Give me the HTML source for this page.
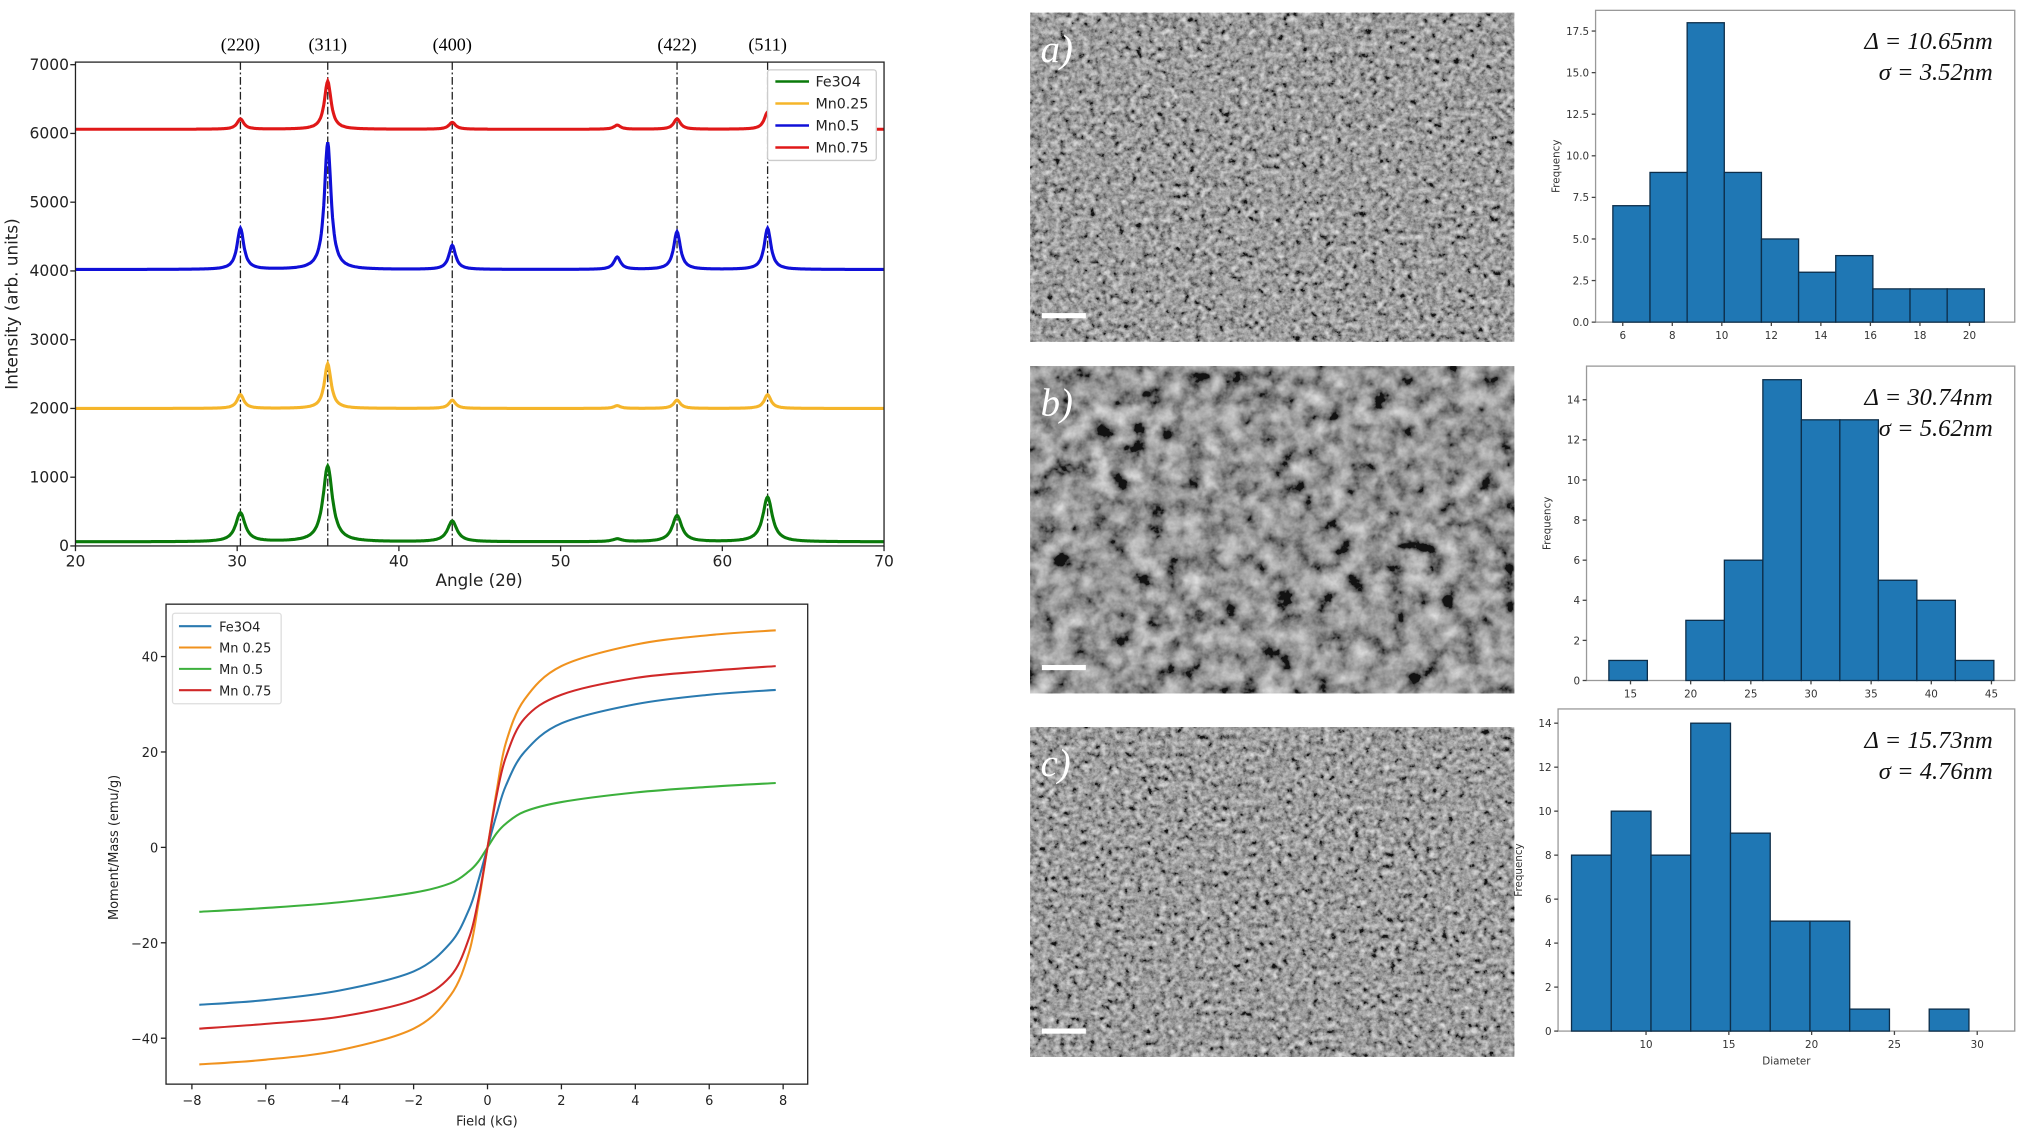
<!DOCTYPE html>
<html><head><meta charset="utf-8"><style>
html,body{margin:0;padding:0;background:#fff;width:2032px;height:1132px;overflow:hidden}
svg text{font-family:"DejaVu Sans","Liberation Sans",sans-serif}
.ser{font-family:"Liberation Serif",serif}
</style></head><body>
<svg id="root" width="2032" height="1132" viewBox="0 0 1568 875" xmlns="http://www.w3.org/2000/svg">
<defs>
<filter id="sem" x="0" y="0" width="100%" height="100%">
<feTurbulence type="fractalNoise" baseFrequency="0.22" numOctaves="4" seed="4"/>
<feColorMatrix type="matrix" values="0.33 0.33 0.33 0 0  0.33 0.33 0.33 0 0  0.33 0.33 0.33 0 0  0 0 0 0 1"/>
<feComponentTransfer><feFuncR type="linear" slope="2.3" intercept="-0.72"/><feFuncG type="linear" slope="2.3" intercept="-0.72"/><feFuncB type="linear" slope="2.3" intercept="-0.72"/></feComponentTransfer>
</filter>
<filter id="sem2" x="0" y="0" width="100%" height="100%">
<feTurbulence type="fractalNoise" baseFrequency="0.07" numOctaves="4" seed="9"/>
<feColorMatrix type="matrix" values="0.33 0.33 0.33 0 0  0.33 0.33 0.33 0 0  0.33 0.33 0.33 0 0  0 0 0 0 1"/>
<feComponentTransfer><feFuncR type="linear" slope="2.4" intercept="-0.82"/><feFuncG type="linear" slope="2.4" intercept="-0.82"/><feFuncB type="linear" slope="2.4" intercept="-0.82"/></feComponentTransfer>
</filter>
</defs>
</svg>
<script>
// ---------- XRD data ----------
const xrdSeries = ['Fe3O4','Mn0.25','Mn0.5','Mn0.75'];
const xrdColors = ['#0a7a0a','#f5b52a','#1010d8','#e01818'];
const xrdBaselines = [60, 2000, 4020, 6060];
const peakPositions = [30.2, 35.6, 43.3, 53.5, 57.2, 62.8];
const peakLabels = ['(220)','(311)','(400)','','(422)','(511)'];
const peaksFe3O4 = [420, 1100, 300, 40, 380, 650];
const peaksMn025 = [200, 650, 120, 40, 120, 200];
const peaksMn05 = [600, 1850, 350, 180, 550, 600];
const peaksMn075 = [150, 700, 100, 60, 150, 250];
const xrdXTicks = [20,30,40,50,60,70];
const xrdYTicks = [0,1000,2000,3000,4000,5000,6000,7000];
// ---------- Hysteresis data ----------
const hystSeries = ['Fe3O4','Mn 0.25','Mn 0.5','Mn 0.75'];
const hystColors = ['#2a7ab0','#f0921e','#3cb03c','#d02828'];
const hystField = [0, 0.25, 0.5, 1, 2, 4, 6, 7.8];
const hystFe3O4 = [0, 7, 13, 20, 26, 30, 32, 33];
const hystMn025 = [0, 12, 22, 31, 38, 42.5, 44.5, 45.5];
const hystMn05 = [0, 3, 5, 7.5, 9.5, 11.5, 12.7, 13.5];
const hystMn075 = [0, 11, 19, 27, 32, 35.5, 37, 38];
const hystXTicks = [-8,-6,-4,-2,0,2,4,6,8];
const hystYTicks = [-40,-20,0,20,40];
// ---------- Histograms ----------
const histAEdges = [5.6, 7.1, 8.6, 10.1, 11.6, 13.1, 14.6, 16.1, 17.6, 19.1, 20.6];
const histACounts = [7, 9, 18, 9, 5, 3, 4, 2, 2, 2];
const histAXTicks = [6,8,10,12,14,16,18,20];
const histAYTicks = [0,2.5,5,7.5,10,12.5,15,17.5];
const histBEdges = [13.2, 16.4, 19.6, 22.8, 26.0, 29.2, 32.4, 35.6, 38.8, 42.0, 45.2];
const histBCounts = [1, 0, 3, 6, 15, 13, 13, 5, 4, 1];
const histBXTicks = [15,20,25,30,35,40,45];
const histBYTicks = [0,2,4,6,8,10,12,14];
const histCEdges = [5.5, 7.9, 10.3, 12.7, 15.1, 17.5, 19.9, 22.3, 24.7, 27.1, 29.5, 31.9];
const histCCounts = [8, 10, 8, 14, 9, 5, 5, 1, 0, 1];
const histCXTicks = [10,15,20,25,30];
const histCYTicks = [0,2,4,6,8,10,12,14];

const NS='http://www.w3.org/2000/svg';
const root=document.getElementById('root');
function el(tag,attrs,parent,text){const e=document.createElementNS(NS,tag);for(const k in attrs)e.setAttribute(k,attrs[k]);if(text!==undefined)e.textContent=text;(parent||root).appendChild(e);return e;}

// ===== XRD =====
const xg=el('g',{});


const XL=57,XR=682,XT=48,XB=422;
const xX=v=>XL+(v-20)*(XR-XL)/50;
const xY=v=>XB-v*(422-50)/7000;
const xrdPeaks=[peaksFe3O4,peaksMn025,peaksMn05,peaksMn075];
[0,1,2,4,5].forEach(i=>{
  const l=el('line',{x1:xX(peakPositions[i]),x2:xX(peakPositions[i]),y1:XT,y2:XB,stroke:'#222','stroke-width':1,'stroke-dasharray':'6,2,1.5,2'},xg);
  
  
  const t=el('text',{x:xX(peakPositions[i]),y:39,'text-anchor':'middle','font-size':14,class:'ser'},xg,peakLabels[i]);
  
  
});
xrdSeries.forEach((s,si)=>{
  let d='';
  for(let a=20;a<=70.001;a+=0.05){
    let v=xrdBaselines[si];
    xrdPeaks[si].forEach((h,pi)=>{const w=si===0?0.35:0.25;const dx=(a-peakPositions[pi])/w;v+=h/(1+dx*dx);});
    d+=(d?'L':'M')+xX(a).toFixed(1)+','+xY(v).toFixed(1);
  }
  const p=el('path',{d:d,fill:'none',stroke:xrdColors[si],'stroke-width':2.4},xg);
  
  
});
el('rect',{x:XL,y:XT,width:XR-XL,height:XB-XT,fill:'none',stroke:'#222','stroke-width':1},xg);
xrdXTicks.forEach(t=>{el('line',{x1:xX(t),x2:xX(t),y1:XB,y2:XB+4,stroke:'#222'},xg);
  const tt=el('text',{x:xX(t),y:XB+16,'text-anchor':'middle','font-size':12,fill:'#222'},xg,t);
  });
xrdYTicks.forEach(t=>{el('line',{x1:XL-4,x2:XL,y1:xY(t),y2:xY(t),stroke:'#222'},xg);
  const tt=el('text',{x:XL-5,y:xY(t)+4,'text-anchor':'end','font-size':12,fill:'#222'},xg,t);
  });
let t1=el('text',{x:369,y:453,'text-anchor':'middle','font-size':13,fill:'#222'},xg,'Angle (2θ)');

t1=el('text',{x:0,y:0,transform:'translate(12,235) rotate(-90)','text-anchor':'middle','font-size':13,fill:'#222'},xg,'Intensity (arb. units)');

const xlg=el('g',{},xg);

el('rect',{x:592,y:54,width:84,height:70,fill:'#fff',stroke:'#ccc',rx:2},xlg);
xrdSeries.forEach((s,i)=>{el('line',{x1:598,x2:624,y1:63+i*17,y2:63+i*17,stroke:xrdColors[i],'stroke-width':2},xlg);
  const lt=el('text',{x:629,y:67+i*17,'font-size':11,fill:'#222'},xlg,s);
  });

// ===== Hysteresis =====
const hg=el('g',{});


const HL=127,HR=623,HT=467,HB=838;
const hX=v=>375.5+v*(604-147)/16;
const hY=v=>655-v*(802-507)/80;
el('rect',{x:HL,y:HT,width:HR-HL,height:HB-HT,fill:'none',stroke:'#222','stroke-width':1},hg);
const hystData=[hystFe3O4,hystMn025,hystMn05,hystMn075];
function smoothPath(pts){let d='M'+pts[0][0]+','+pts[0][1];
  for(let i=0;i<pts.length-1;i++){const p0=pts[Math.max(i-1,0)],p1=pts[i],p2=pts[i+1],p3=pts[Math.min(i+2,pts.length-1)];
    const c1=[p1[0]+(p2[0]-p0[0])/6,p1[1]+(p2[1]-p0[1])/6],c2=[p2[0]-(p3[0]-p1[0])/6,p2[1]-(p3[1]-p1[1])/6];
    d+='C'+c1.join(',')+' '+c2.join(',')+' '+p2.join(',');}return d;}
hystSeries.forEach((s,si)=>{
  const pts=[];const m=hystData[si];
  for(let i=hystField.length-1;i>0;i--)pts.push([hX(-hystField[i]),hY(-m[i])]);
  for(let i=0;i<hystField.length;i++)pts.push([hX(hystField[i]),hY(m[i])]);
  const p=el('path',{d:smoothPath(pts),fill:'none',stroke:hystColors[si],'stroke-width':1.6},hg);
  
});
hystXTicks.forEach(t=>{el('line',{x1:hX(t),x2:hX(t),y1:HB,y2:HB+4,stroke:'#222'},hg);
  const tt=el('text',{x:hX(t),y:HB+16,'text-anchor':'middle','font-size':10,fill:'#222'},hg,t<0?'−'+(-t):t);
  });
hystYTicks.forEach(t=>{el('line',{x1:HL-4,x2:HL,y1:hY(t),y2:hY(t),stroke:'#222'},hg);
  const tt=el('text',{x:HL-6,y:hY(t)+4,'text-anchor':'end','font-size':10,fill:'#222'},hg,t<0?'−'+(-t):t);
  });
t1=el('text',{x:375,y:870,'text-anchor':'middle','font-size':10,fill:'#222'},hg,'Field (kG)');

t1=el('text',{x:0,y:0,transform:'translate(90,655) rotate(-90)','text-anchor':'middle','font-size':10,fill:'#222'},hg,'Moment/Mass (emu/g)');

const hlg=el('g',{},hg);

el('rect',{x:132,y:474,width:84,height:70,fill:'#fff',stroke:'#ddd',rx:2},hlg);
hystSeries.forEach((s,i)=>{el('line',{x1:137,x2:162,y1:484+i*16.5,y2:484+i*16.5,stroke:hystColors[i],'stroke-width':1.6},hlg);
  const lt=el('text',{x:168,y:488+i*16.5,'font-size':10,fill:'#222'},hlg,s);
  });

// ===== SEM images =====
const sems=[{y:10,h:254,l:'a)',f:'sem'},{y:283,h:253,l:'b)',f:'sem2'},{y:562,h:255,l:'c)',f:'sem'}];
sems.forEach((s,i)=>{
  const g=el('g',{});
  
  el('rect',{x:795,y:s.y,width:374,height:s.h,fill:'#5e5e5e'},g);
  el('rect',{x:795,y:s.y,width:374,height:s.h,filter:'url(#'+s.f+')',opacity:0.8},g);
  const t=el('text',{x:803,y:s.y+38,'font-size':30,fill:'#fff','font-style':'italic',class:'ser'},g,s.l);
  
  el('rect',{x:804,y:s.y+s.h-22,width:34,height:4,fill:'#fff'},g);
});

// ===== Histograms =====
function hist(name,box,edges,counts,xticks,yticks,x0,x1,yMax,y0px,yMaxPx,stats,xlabel){
  const g=el('g',{});
  
  el('rect',{x:box[0],y:box[1],width:box[2]-box[0],height:box[3]-box[1],fill:'#fff',stroke:'#999','stroke-width':1},g);
  const sx=v=>x0[1]+(v-x0[0])*(x1[1]-x0[1])/(x1[0]-x0[0]);
  const sy=v=>y0px-v*(y0px-yMaxPx)/yMax;
  counts.forEach((c,i)=>{if(!c)return;
    const r=el('rect',{x:sx(edges[i]),y:sy(c),width:sx(edges[i+1])-sx(edges[i]),height:y0px-sy(c),fill:'#1f77b4',stroke:'#0d2e4a','stroke-width':1},g);
    });
  xticks.forEach(t=>{el('line',{x1:sx(t),x2:sx(t),y1:box[3],y2:box[3]+3,stroke:'#444'},g);
    const tt=el('text',{x:sx(t),y:box[3]+13,'text-anchor':'middle','font-size':8,fill:'#333'},g,t);
    });
  yticks.forEach(t=>{el('line',{x1:box[0]-3,x2:box[0],y1:sy(t),y2:sy(t),stroke:'#444'},g);
    const tt=el('text',{x:box[0]-5,y:sy(t)+3,'text-anchor':'end','font-size':8,fill:'#333'},g,Number.isInteger(t)&&yticks.includes(2.5)?t.toFixed(1):t);
    });
  const yt=el('text',{x:0,y:0,transform:'translate('+(box[0]-28)+','+((box[1]+box[3])/2)+') rotate(-90)','text-anchor':'middle','font-size':8,fill:'#333'},g,'Frequency');
  
  if(xlabel){const xt=el('text',{x:(box[0]+box[2])/2,y:box[3]+26,'text-anchor':'middle','font-size':8,fill:'#333'},g,xlabel);
    }
  stats.forEach((s,i)=>{const st=el('text',{x:box[2]-17,y:box[1]+30+i*24,'text-anchor':'end','font-size':19,fill:'#111','font-style':'italic',class:'ser'},g,s);
    });
}
hist('histogram-a',[1232,8,1556,249],histAEdges,histACounts,histAXTicks,histAYTicks,[6,1253],[20,1521],17.5,249,24,['Δ = 10.65nm','σ = 3.52nm']);
hist('histogram-b',[1225,283,1556,526],histBEdges,histBCounts,histBXTicks,histBYTicks,[15,1259],[45,1538],14,526,309,['Δ = 30.74nm','σ = 5.62nm']);
hist('histogram-c',[1203,548,1556,797],histCEdges,histCCounts,histCXTicks,histCYTicks,[10,1271],[30,1527],14,797,559,['Δ = 15.73nm','σ = 4.76nm'],'Diameter');
</script>
</body></html>
